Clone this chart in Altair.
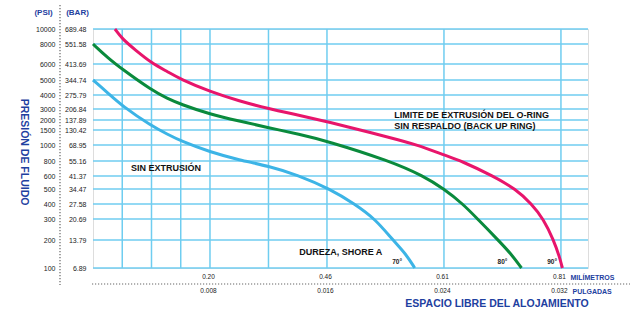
import json
import altair as alt
import pandas as pd

# ---------------- data ----------------
# pressure gridlines (PSI) and their BAR equivalents as printed on the chart
psi_ticks = [100, 200, 300, 400, 500, 600, 800, 1000, 1500, 2000, 3000, 4000, 5000, 6000, 8000, 10000]
bar_labels = ["6.89", "13.79", "20.69", "27.58", "34.47", "41.37", "55.16", "68.95",
              "130.42", "137.89", "206.84", "275.79", "344.74", "413.69", "551.58", "689.48"]

# clearance gridlines (inches) and labelled ticks
x_grid = [0.002, 0.004, 0.006, 0.008, 0.012, 0.016, 0.024, 0.032]
in_ticks = [0.008, 0.016, 0.024, 0.032]
in_labels = ["0.008", "0.016", "0.024", "0.032"]
mm_labels = ["0.20", "0.46", "0.61", "0.81"]

# extrusion limit curves: clearance (in) vs pressure (PSI)
c70_x = [0.0, 0.001, 0.002, 0.004, 0.0051, 0.006, 0.008, 0.010, 0.012, 0.014, 0.0162, 0.0179, 0.0193, 0.0205, 0.0214, 0.022]
c70_y = [5000, 4150, 3210, 1700, 1357, 1133, 912, 812, 733, 613, 500, 400, 300, 200, 150, 100]

c80_x = [0.0, 0.001, 0.002, 0.004, 0.0051, 0.006, 0.008, 0.010, 0.012, 0.0141, 0.016, 0.0203, 0.0226, 0.024, 0.0253, 0.0263, 0.0277, 0.0286, 0.0293]
c80_y = [8000, 6630, 5670, 4330, 3740, 3340, 2520, 1950, 1615, 1357, 1133, 800, 600, 500, 400, 300, 200, 150, 100]

c90_x = [0.0015, 0.002, 0.0029, 0.004, 0.0051, 0.006, 0.008, 0.010, 0.012, 0.0141, 0.016, 0.017, 0.0203, 0.0222, 0.024, 0.0252, 0.02735, 0.0289, 0.030, 0.0308, 0.0315, 0.0319, 0.0321]
c90_y = [10000, 8670, 7400, 6100, 5520, 5040, 4220, 3570, 3020, 2430, 1915, 1735, 1250, 1000, 875, 800, 600, 500, 400, 300, 200, 140, 100]

series = ["70°", "80°", "90°"]
colors = ["#3cb4e6", "#0a8a3c", "#e8156b"]

# annotations (clearance in, pressure PSI)
notes_text = ["LIMITE DE EXTRUSIÓN DEL O-RING", "SIN RESPALDO (BACK UP RING)", "SIN EXTRUSIÓN", "DUREZA, SHORE A"]
notes_x = [0.0206, 0.0206, 0.0026, 0.0141]
notes_y = [2455, 1700, 707, 157]

deg_x = [0.0208, 0.0280, 0.0314]
deg_y = [121, 121, 121]

y_title = "PRESIÓN DE FLUIDO"
x_title = "ESPACIO LIBRE DEL ALOJAMIENTO"

# ---------------- layout / style ----------------
BLUE = "#1e40a0"
GRID = "#6fcdf0"
BORDER = "#45bbe8"
FONT = "Liberation Sans"
W, H = 495, 239
# vertical position (px from top) of each pressure gridline in the printed chart
y_range_px = [239, 211, 190, 175, 160, 147, 132, 116, 101, 91, 80, 66, 51, 35, 15, 0]

xscale = alt.Scale(domain=[0, 0.03385], nice=False, zero=False)
yscale = alt.Scale(type="linear", domain=psi_ticks, range=y_range_px, nice=False, zero=False)

curves = pd.DataFrame({
    "x": c70_x + c80_x + c90_x,
    "psi": c70_y + c80_y + c90_y,
    "dureza": [series[0]] * len(c70_x) + [series[1]] * len(c80_x) + [series[2]] * len(c90_x),
})
curves["order"] = range(len(curves))

mm_expr = f"{json.dumps(mm_labels)}[indexof({json.dumps(in_ticks)}, datum.value)]"
in_expr = f"{json.dumps(in_labels)}[indexof({json.dumps(in_ticks)}, datum.value)]"
bar_expr = f"{json.dumps(bar_labels)}[indexof({json.dumps(psi_ticks)}, datum.value)]"

common_axis = dict(tickSize=0, domain=False, grid=False, labelOverlap=False, labelFlush=False,
                   labelFont=FONT, labelColor="#222", titleFont=FONT, titleColor=BLUE,
                   titleFontWeight="bold", titleAngle=0, titleBaseline="middle")

mm_axis = alt.Axis(orient="bottom", values=in_ticks, labelExpr=mm_expr, labelPadding=5,
                   labelFontSize=6.5, labelOffset=-2, title="MILÍMETROS", titleX=477, titleY=9,
                   titleAlign="left", titleFontSize=7, **common_axis)
in_axis = alt.Axis(orient="bottom", values=in_ticks, labelExpr=in_expr, labelPadding=19,
                   labelFontSize=6.5, labelOffset=-2, title="PULGADAS", titleX=479, titleY=23,
                   titleAlign="left", titleFontSize=7, **common_axis)
bar_axis = alt.Axis(orient="left", values=psi_ticks, labelExpr=bar_expr, labelPadding=7,
                    labelFontSize=7, title="(BAR)", titleX=-16, titleY=-17, titleAlign="center",
                    titleFontSize=8, **common_axis)
psi_axis = alt.Axis(orient="left", values=psi_ticks, format="d", labelPadding=38,
                    labelFontSize=7, title="(PSI)", titleX=-50, titleY=-17, titleAlign="center",
                    titleFontSize=8, **common_axis)

vgrid = alt.Chart(pd.DataFrame({"x": x_grid})).mark_rule(color=GRID, strokeWidth=1.5).encode(
    x=alt.X("x:Q", scale=xscale, axis=mm_axis)
)
hgrid = alt.Chart(pd.DataFrame({"psi": psi_ticks})).mark_rule(color=GRID, strokeWidth=1.5).encode(
    y=alt.Y("psi:Q", scale=yscale, axis=bar_axis)
)
lines = alt.Chart(curves).mark_line(strokeWidth=3, interpolate="basis").encode(
    x=alt.X("x:Q", scale=xscale, axis=in_axis),
    y=alt.Y("psi:Q", scale=yscale, axis=psi_axis),
    color=alt.Color("dureza:N", scale=alt.Scale(domain=series, range=colors), legend=None),
    detail="dureza:N",
    order="order:Q",
)
notes = alt.Chart(pd.DataFrame({"t": notes_text, "x": notes_x, "psi": notes_y})).mark_text(
    align="left", baseline="middle", font=FONT, fontSize=9, fontWeight="bold", color="#111"
).encode(
    x=alt.X("x:Q", scale=xscale, axis=None),
    y=alt.Y("psi:Q", scale=yscale, axis=None),
    text="t:N",
)
degs = alt.Chart(pd.DataFrame({"t": series, "x": deg_x, "psi": deg_y})).mark_text(
    align="center", baseline="middle", font=FONT, fontSize=6.5, fontWeight="bold", color="#222"
).encode(
    x=alt.X("x:Q", scale=xscale, axis=None),
    y=alt.Y("psi:Q", scale=yscale, axis=None),
    text="t:N",
)
ytitle = alt.Chart(pd.DataFrame({"t": [y_title]})).mark_text(
    angle=90, font=FONT, fontSize=10.5, fontWeight="bold", color=BLUE, align="center", baseline="middle"
).encode(text="t:N", x=alt.value(-69), y=alt.value(123))
xtitle = alt.Chart(pd.DataFrame({"t": [x_title]})).mark_text(
    font=FONT, fontSize=10.5, fontWeight="bold", color=BLUE, align="center", baseline="middle"
).encode(text="t:N", x=alt.value(404), y=alt.value(275))
vdots = alt.Chart(pd.DataFrame({"k": [0]})).mark_rule(color="#666", strokeWidth=1.2, strokeDash=[1.2, 1.8]).encode(
    x=alt.value(-33), y=alt.value(-24), y2=alt.value(256)
)
hdots = alt.Chart(pd.DataFrame({"k": [0]})).mark_rule(color="#666", strokeWidth=1.2, strokeDash=[1.2, 1.8]).encode(
    x=alt.value(-1), x2=alt.value(537), y=alt.value(255)
)

chart = (
    alt.layer(vgrid, hgrid, lines, notes, degs, ytitle, xtitle, vdots, hdots)
    .resolve_scale(x="shared", y="shared")
    .resolve_axis(x="independent", y="independent")
    .properties(width=W, height=H, autosize=alt.AutoSizeParams(type="none"),
                padding={"left": 93, "top": 29, "right": 44, "bottom": 53})
    .configure_view(stroke=BORDER, strokeWidth=2)
    .configure(font=FONT, background="white")
)

chart.save("out.html", embed_options={"renderer": "svg", "actions": False})
